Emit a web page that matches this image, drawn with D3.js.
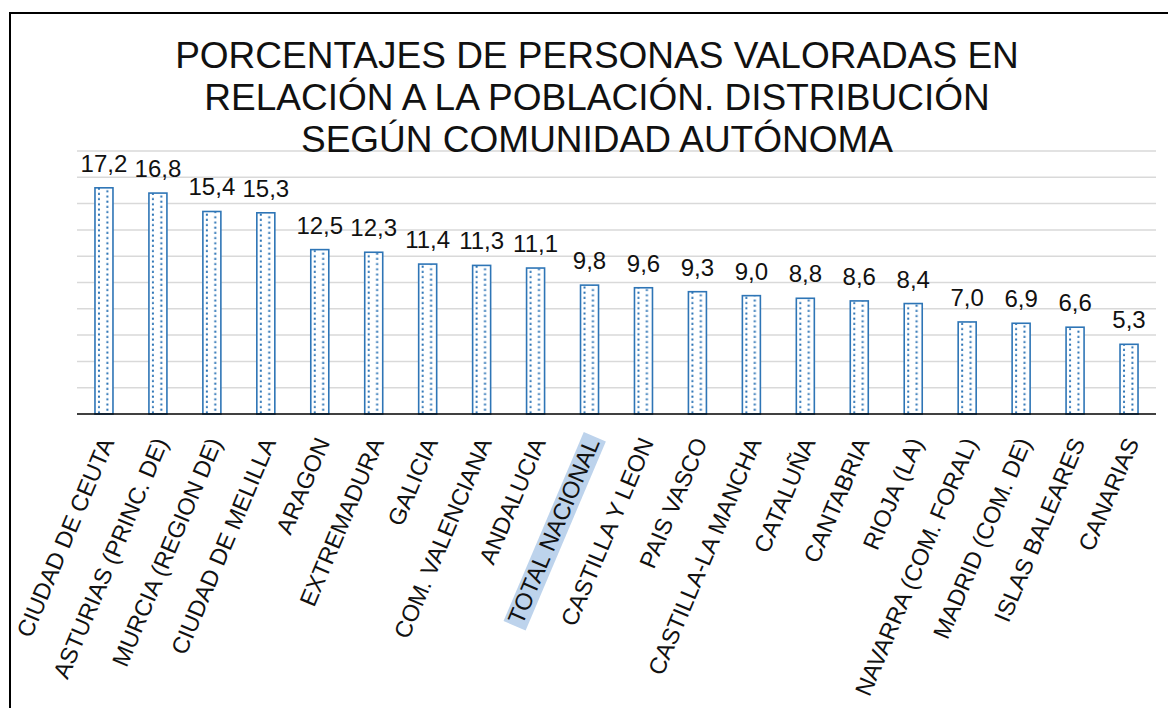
<!DOCTYPE html>
<html>
<head>
<meta charset="utf-8">
<script src="https://cdn.jsdelivr.net/npm/d3@7"></script>
<style>
  body { margin: 0; background: #fff; }
  svg { display: block; font-family: "Liberation Sans", Arial, sans-serif; }
</style>
</head>
<body>
<svg id="chart" width="1168" height="708"></svg>
<script>
// datos
const regiones = ["CIUDAD DE CEUTA", "ASTURIAS (PRINC. DE)", "MURCIA (REGION DE)", "CIUDAD DE MELILLA",
  "ARAGON", "EXTREMADURA", "GALICIA", "COM. VALENCIANA", "ANDALUCIA", "TOTAL NACIONAL",
  "CASTILLA Y LEON", "PAIS VASCO", "CASTILLA-LA MANCHA", "CATALUÑA", "CANTABRIA", "RIOJA (LA)",
  "NAVARRA (COM. FORAL)", "MADRID (COM. DE)", "ISLAS BALEARES", "CANARIAS"];
const porcentajes = [17.2, 16.8, 15.4, 15.3, 12.5, 12.3, 11.4, 11.3, 11.1, 9.8,
  9.6, 9.3, 9.0, 8.8, 8.6, 8.4, 7.0, 6.9, 6.6, 5.3];
const ticks = [0, 2, 4, 6, 8, 10, 12, 14, 16, 18, 20];
const titulo = ["PORCENTAJES DE PERSONAS VALORADAS EN",
  "RELACIÓN A LA POBLACIÓN. DISTRIBUCIÓN",
  "SEGÚN COMUNIDAD AUTÓNOMA"];
const destacado = "TOTAL NACIONAL";

const svg = d3.select("#chart");
const azul = "#2e75b6";

const x = d3.scaleBand().domain(regiones).range([77, 1156]).paddingInner(0).paddingOuter(0);
const y = d3.scaleLinear().domain([0, 20]).range([414, 151]);
const bw = 18;
const fmt = v => d3.format(".1f")(v).replace(".", ",");

// marco
svg.append("rect")
  .attr("x", 10).attr("y", 13).attr("width", 1200).attr("height", 720)
  .attr("fill", "none").attr("stroke", "#000").attr("stroke-width", 2);

// patron de puntos
const defs = svg.append("defs");
const pat = defs.append("pattern")
  .attr("id", "puntos")
  .attr("patternUnits", "userSpaceOnUse")
  .attr("x", 77 + (x.bandwidth() - bw) / 2)
  .attr("y", 0)
  .attr("width", x.bandwidth())
  .attr("height", 5.2);
pat.append("rect").attr("x", 0).attr("y", 0).attr("width", x.bandwidth()).attr("height", 5.2).attr("fill", "#fff");
pat.append("rect").attr("x", 3).attr("y", 0.5).attr("width", 2).attr("height", 2).attr("fill", azul);
pat.append("rect").attr("x", 11.4).attr("y", 3.1).attr("width", 2).attr("height", 2).attr("fill", azul);

// rejilla
svg.append("g")
  .selectAll("line")
  .data(ticks.slice(1))
  .join("line")
    .attr("x1", 77).attr("x2", 1156)
    .attr("y1", d => y(d)).attr("y2", d => y(d))
    .attr("stroke", "#d9d9d9").attr("stroke-width", 1.5);

// titulo
svg.append("g")
  .attr("text-anchor", "middle")
  .style("font-size", "37px")
  .selectAll("text")
  .data(titulo)
  .join("text")
    .attr("x", 597)
    .attr("y", (d, i) => 68 + i * 42)
    .attr("fill", "#111")
    .text(d => d);

// barras
svg.append("g")
  .selectAll("rect")
  .data(porcentajes)
  .join("rect")
    .attr("x", (d, i) => x(regiones[i]) + (x.bandwidth() - bw) / 2)
    .attr("y", d => y(d))
    .attr("width", bw)
    .attr("height", d => y(0) - y(d))
    .attr("fill", "url(#puntos)")
    .attr("stroke", azul)
    .attr("stroke-width", 1.6);

// eje
svg.append("line")
  .attr("x1", 77).attr("x2", 1156)
  .attr("y1", y(0)).attr("y2", y(0))
  .attr("stroke", "#000").attr("stroke-width", 1.5);

// etiquetas de valor
svg.append("g")
  .attr("text-anchor", "middle")
  .style("font-size", "24px")
  .selectAll("text")
  .data(porcentajes)
  .join("text")
    .attr("x", (d, i) => x(regiones[i]) + x.bandwidth() / 2)
    .attr("y", d => y(d) - 16)
    .attr("fill", "#111")
    .text(d => fmt(d));

// etiquetas de categoria
const cat = svg.append("g")
  .style("font-size", "23.5px")
  .selectAll("g")
  .data(regiones)
  .join("g")
    .attr("transform", d => `translate(${x(d) + x.bandwidth() / 2 + 3},${y(0) + 25}) rotate(-67)`);

cat.append("text")
  .attr("text-anchor", "end")
  .attr("dy", "0.35em")
  .attr("fill", "#111")
  .text(d => d);

cat.filter(d => d === destacado).each(function() {
  const g = d3.select(this);
  const b = g.select("text").node().getBBox();
  g.insert("rect", "text")
    .attr("x", b.x - 3).attr("y", b.y + 2)
    .attr("width", b.width + 6).attr("height", b.height - 2)
    .attr("fill", "#bdd3ec");
});
</script>
</body>
</html>
